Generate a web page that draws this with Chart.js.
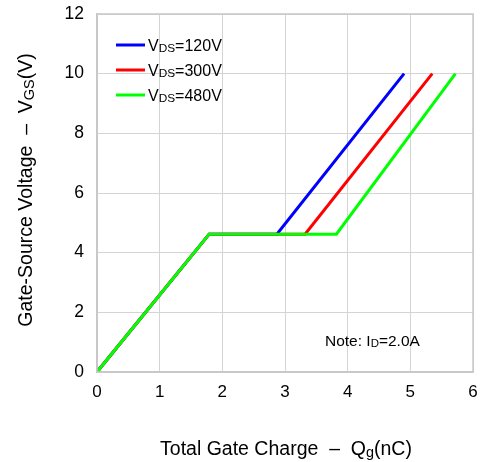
<!DOCTYPE html>
<html>
<head>
<meta charset="utf-8">
<script src="https://cdn.jsdelivr.net/npm/chart.js@4/dist/chart.umd.min.js"></script>
<style>
html,body{margin:0;padding:0;background:#fff;}
#wrap{width:486px;height:462px;position:relative;}
</style>
</head>
<body>
<div id="wrap"><canvas id="c" width="486" height="462"></canvas></div>
<script>
// Data (Qg in nC, VGS in V)
const qg120 = [0, 1.79, 2.87, 4.9];
const vgs120 = [0, 4.62, 4.62, 10];
const qg300 = [0, 1.79, 3.32, 5.35];
const vgs300 = [0, 4.62, 4.62, 10];
const qg480 = [0, 1.79, 3.82, 5.72];
const vgs480 = [0, 4.62, 4.62, 10];

const seriesPrefix = ["V", "V", "V"];
const seriesSub = ["DS", "DS", "DS"];
const seriesSuffix = ["=120V", "=300V", "=480V"];
const seriesColors = ["#0000ff", "#ff0000", "#00ff00"];

const xTicks = [0, 1, 2, 3, 4, 5, 6];
const yTicks = [0, 2, 4, 6, 8, 10, 12];

const FONT = "'Liberation Sans', Arial, sans-serif";

function pts(xs, ys) { return xs.map((x, i) => ({x: x, y: ys[i]})); }

// draw text runs with subscripts
function drawRuns(ctx, runs, x, y, size) {
  let cx = x;
  for (const r of runs) {
    const s = r.sub ? size * 0.74 : size;
    ctx.font = s + "px " + FONT;
    ctx.fillText(r.t, cx, y + (r.sub ? size * 0.08 : 0));
    cx += ctx.measureText(r.t).width;
  }
  return cx - x;
}
function measureRuns(ctx, runs, size) {
  let w = 0;
  for (const r of runs) {
    const s = r.sub ? size * 0.74 : size;
    ctx.font = s + "px " + FONT;
    w += ctx.measureText(r.t).width;
  }
  return w;
}

const annot = {
  id: 'annot',
  afterDraw(chart) {
    const ctx = chart.ctx;
    const a = chart.chartArea;
    ctx.save();
    // frame
    ctx.strokeStyle = '#c8c8c8';
    ctx.lineWidth = 1.5;
    ctx.strokeRect(a.left, a.top, a.right - a.left, a.bottom - a.top);
    ctx.fillStyle = "#000";
    ctx.textBaseline = "alphabetic";
    ctx.textAlign = "left";
    // legend
    for (let i = 0; i < 3; i++) {
      const ly = 45 + i * 25;
      ctx.strokeStyle = seriesColors[i];
      ctx.lineWidth = 3;
      ctx.beginPath();
      ctx.moveTo(116, ly);
      ctx.lineTo(145, ly);
      ctx.stroke();
      drawRuns(ctx, [{t: seriesPrefix[i]}, {t: seriesSub[i], sub: true}, {t: seriesSuffix[i]}], 148, ly + 6, 16);
    }
    // note
    drawRuns(ctx, [{t: "Note: I"}, {t: "D", sub: true}, {t: "=2.0A"}], 325, 346, 15.5);
    // x title
    const xr = [{t: "Total Gate Charge  \u2013  Q"}, {t: "g", sub: true}, {t: "(nC)"}];
    const xw = measureRuns(ctx, xr, 19.5);
    drawRuns(ctx, xr, 286 - xw / 2, 455, 19.5);
    // y title
    const yr = [{t: "Gate-Source Voltage  \u2013  V"}, {t: "GS", sub: true}, {t: "(V)"}];
    const yw = measureRuns(ctx, yr, 19.5);
    ctx.translate(32, 190);
    ctx.rotate(-Math.PI / 2);
    drawRuns(ctx, yr, -yw / 2, 0, 19.5);
    ctx.restore();
  }
};

new Chart(document.getElementById('c'), {
  type: 'scatter',
  data: {
    datasets: [
      {label: 'VDS=120V', data: pts(qg120, vgs120), borderColor: seriesColors[0], order: 3},
      {label: 'VDS=300V', data: pts(qg300, vgs300), borderColor: seriesColors[1], order: 2},
      {label: 'VDS=480V', data: pts(qg480, vgs480), borderColor: seriesColors[2], order: 1}
    ].map(d => Object.assign(d, {showLine: true, borderWidth: 3, pointRadius: 0, tension: 0, fill: false}))
  },
  options: {
    responsive: false,
    animation: false,
    events: [],
    layout: {padding: {left: 0, top: 14, right: 13, bottom: 0}},
    plugins: {legend: {display: false}, tooltip: {enabled: false}},
    scales: {
      x: {
        type: 'linear', min: 0, max: 6,
        afterBuildTicks: s => { s.ticks = xTicks.map(v => ({value: v})); },
        afterFit: s => { s.height = 90; s.paddingLeft = 0; s.paddingRight = 0; },
        grid: {color: '#d4d4d4', lineWidth: 1, drawTicks: false},
        border: {color: '#c8c8c8', width: 1.5},
        ticks: {color: '#000', font: {family: FONT, size: 17}, padding: 10, maxRotation: 0}
      },
      y: {
        type: 'linear', min: 0, max: 12,
        afterBuildTicks: s => { s.ticks = yTicks.map(v => ({value: v})); },
        afterFit: s => { s.width = 97; s.paddingTop = 0; s.paddingBottom = 0; },
        grid: {color: '#d4d4d4', lineWidth: 1, drawTicks: false},
        border: {color: '#c8c8c8', width: 1.5},
        ticks: {color: '#000', font: {family: FONT, size: 17.5}, padding: 13}
      }
    }
  },
  plugins: [annot]
});
</script>
</body>
</html>
